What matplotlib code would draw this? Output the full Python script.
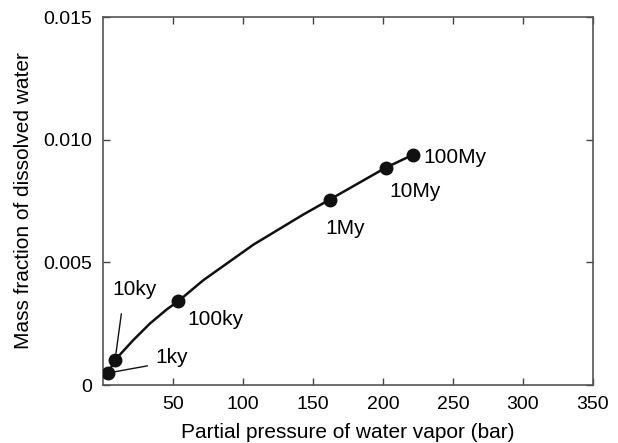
import matplotlib.pyplot as plt

plt.rcParams['font.family'] = ['Liberation Sans', 'DejaVu Sans']

# Marked ages along the curve
ages = ['1ky', '10ky', '100ky', '1My', '10My', '100My']
age_pressure = [3.6, 8.6, 53.6, 162, 202, 221.6]
age_water = [0.00049, 0.00102, 0.00341, 0.00756, 0.00886, 0.00939]

# Curve
curve_pressure = [3.6, 8.6, 21.6, 33.6, 45.5, 53.6, 71.6, 107.4, 143.1,
                  162, 202, 221.6]
curve_water = [0.00049, 0.00102, 0.00183, 0.00251, 0.00308, 0.00341,
               0.00427, 0.00572, 0.00695, 0.00756, 0.00886, 0.00939]

x_ticks = [50, 100, 150, 200, 250, 300, 350]
y_ticks = [0, 0.005, 0.010, 0.015]
y_tick_labels = ['0', '0.005', '0.010', '0.015']

fig = plt.figure(figsize=(6.18, 4.43), dpi=100)
ax = fig.add_axes([0.1667, 0.1309, 0.7928, 0.8307])

ax.plot(curve_pressure, curve_water, color='#111111', lw=1.8, zorder=2)
ax.plot(age_pressure, age_water, 'o', color='#111111', ms=9, zorder=3)

# label placement (offsets in points)
offsets = {
    '1ky': (46, 11),
    '10ky': (14, 51),
    '100ky': (27, -13),
    '1My': (11, -21),
    '10My': (21, -17),
    '100My': (30, -2),
}
# where the leader line leaves the text box, and the gap left there
leaders = {
    '1ky': ((0.0, 0.15), 4),
    '10ky': ((0.25, 0.0), 9),
}
for name, px, wy in zip(ages, age_pressure, age_water):
    dx, dy = offsets[name]
    if name in leaders:
        rp, gap = leaders[name]
        ax.annotate(name, (px, wy), xytext=(dx, dy), textcoords='offset points',
                    fontsize=15, ha='center', va='center',
                    arrowprops=dict(arrowstyle='-', color='#111111', lw=1,
                                    relpos=rp, shrinkA=gap, shrinkB=5))
    else:
        ax.annotate(name, (px, wy), xytext=(dx, dy), textcoords='offset points',
                    fontsize=15, ha='center', va='center')

ax.set_xlim(0, 350)
ax.set_ylim(0, 0.015)
ax.set_xticks(x_ticks)
ax.set_yticks(y_ticks)
ax.set_yticklabels(y_tick_labels)
ax.tick_params(direction='in', length=5, width=1, color='#444444',
               labelsize=14, top=True, right=True, pad=8)
for s in ax.spines.values():
    s.set_color('#555555')
    s.set_linewidth(1.2)

ax.set_xlabel('Partial pressure of water vapor (bar)', fontsize=15, labelpad=7)
ax.set_ylabel('Mass fraction of dissolved water', fontsize=15, labelpad=7)

fig.savefig('out.png', dpi=100)
